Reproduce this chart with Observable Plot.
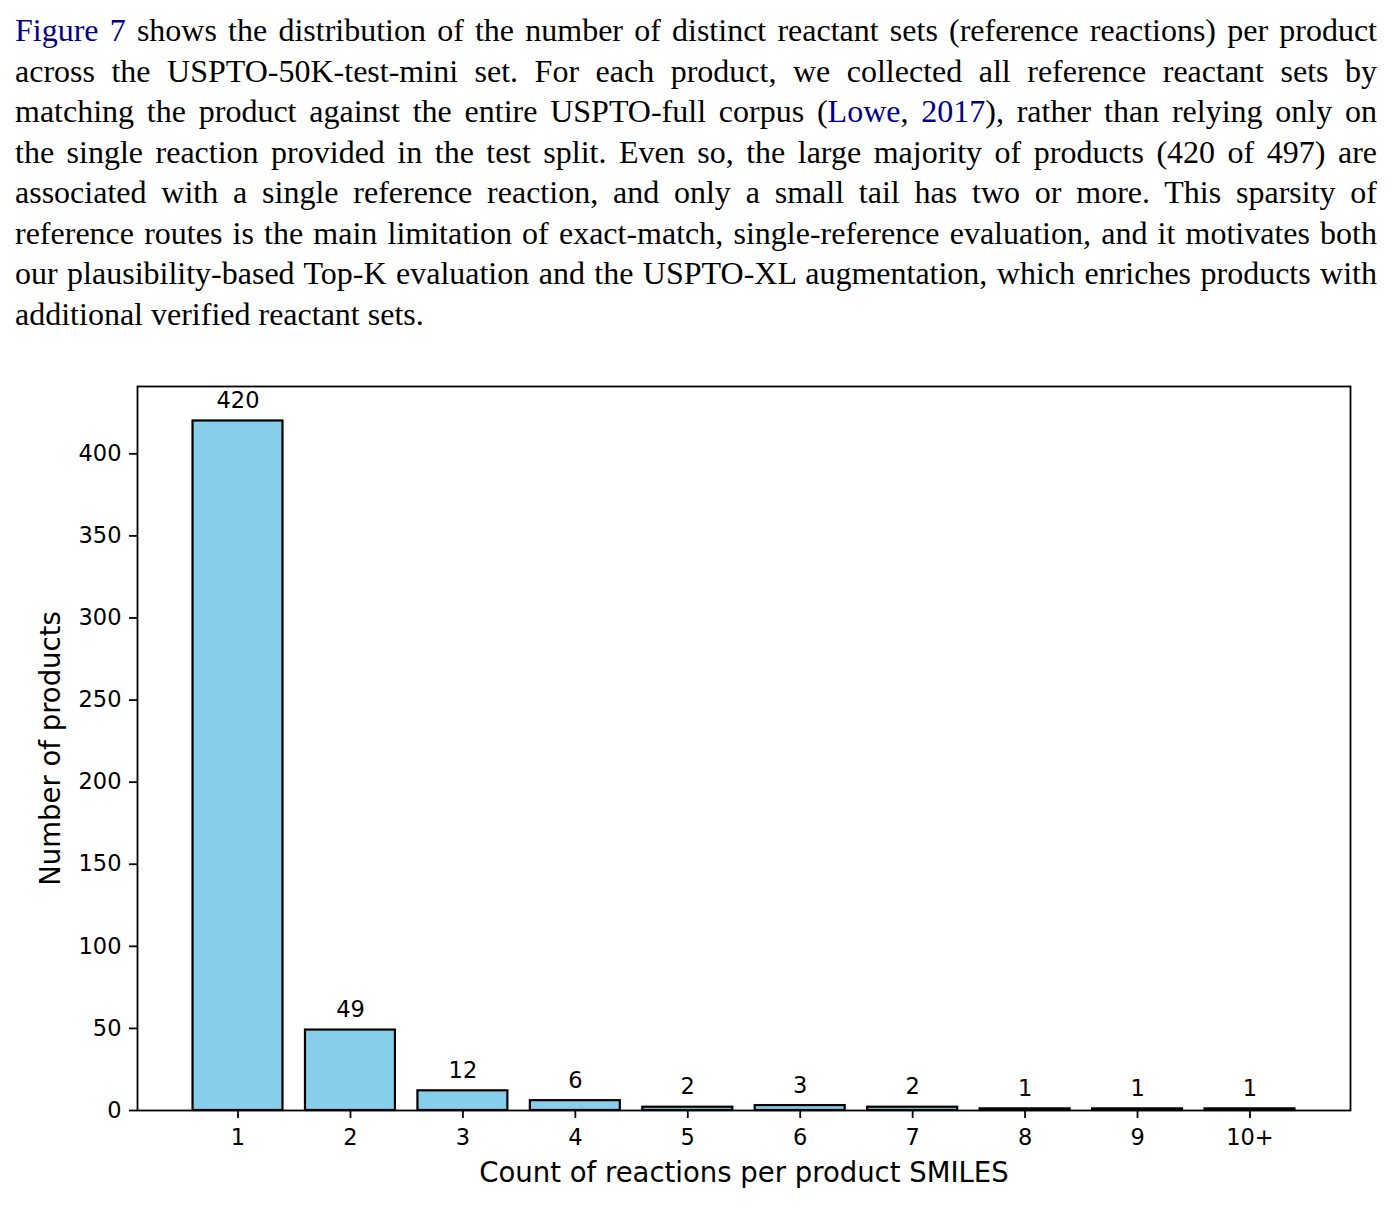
<!DOCTYPE html>
<html>
<head>
<meta charset="utf-8">
<script src="https://cdn.jsdelivr.net/npm/d3@7"></script>
<script src="https://cdn.jsdelivr.net/npm/@observablehq/plot@0.6"></script>
<style>
  html, body { margin: 0; padding: 0; background: #fff; }
  body { width: 1393px; height: 1207px; position: relative; overflow: hidden; }
  #para {
    position: absolute; left: 15px; top: 10px; width: 1362px;
    font-family: "Liberation Serif", "Times New Roman", serif;
    font-size: 32px; line-height: 40.5px; color: #000;
  }
  #para .ln { text-align: justify; text-align-last: justify; }
  #para .ln.last { text-align-last: left; }
  #para .ref { color: #00008b; }
  #chart { position: absolute; left: 0; top: 350px; }
</style>
</head>
<body>
<div id="para"></div>
<div id="chart"></div>
<script>
// ---- data ----
const categories = ["1", "2", "3", "4", "5", "6", "7", "8", "9", "10+"];
const counts = [420, 49, 12, 6, 2, 3, 2, 1, 1, 1];
const yTicks = [0, 50, 100, 150, 200, 250, 300, 350, 400];
const xLabel = "Count of reactions per product SMILES";
const yLabel = "Number of products";

// paragraph lines (segments: [text, isReference])
const paragraphLines = [
  [["Figure 7", true], [" shows the distribution of the number of distinct reactant sets (reference reactions) per product", false]],
  [["across the USPTO-50K-test-mini set.  For each product, we collected all reference reactant sets by", false]],
  [["matching the product against the entire USPTO-full corpus (", false], ["Lowe", true], [", ", false], ["2017", true], ["), rather than relying only on", false]],
  [["the single reaction provided in the test split. Even so, the large majority of products (420 of 497) are", false]],
  [["associated with a single reference reaction, and only a small tail has two or more.  This sparsity of", false]],
  [["reference routes is the main limitation of exact-match, single-reference evaluation, and it motivates both", false]],
  [["our plausibility-based Top-K evaluation and the USPTO-XL augmentation, which enriches products with", false]],
  [["additional verified reactant sets.", false]]
];

const para = document.getElementById("para");
paragraphLines.forEach((segs, i) => {
  const d = document.createElement("div");
  d.className = "ln" + (i === paragraphLines.length - 1 ? " last" : "");
  segs.forEach(([t, isRef]) => {
    const s = document.createElement("span");
    if (isRef) s.className = "ref";
    s.textContent = t;
    d.appendChild(s);
  });
  para.appendChild(d);
});

const data = categories.map((c, i) => ({category: c, count: counts[i]}));

const W = 1393, H = 857;
const chart = Plot.plot({
  width: W,
  height: H,
  marginLeft: 137,
  marginRight: 43,
  marginTop: 36,
  marginBottom: 97,
  style: {fontFamily: "DejaVu Sans, sans-serif", fontSize: "22.5px", color: "#000", background: "#fff", overflow: "visible"},
  x: {domain: categories, paddingInner: 0.2, paddingOuter: 0.494, align: 0.5, round: false},
  y: {domain: [0, 441]},
  marks: [
    Plot.barY(data, {x: "category", y: "count", fill: "#87CEEB", stroke: "#000", strokeWidth: 2.2}),
    Plot.text(data, {x: "category", y: "count", text: d => String(d.count), dy: -20, lineAnchor: "middle", fontSize: 22.5, fill: "#000"}),
    Plot.axisY({ticks: yTicks, tickSize: 8, tickPadding: 8, label: null, strokeWidth: 1.8, fontSize: 22.5}),
    Plot.axisX({tickSize: 8, tickPadding: 11, label: null, strokeWidth: 1.8, fontSize: 22.5}),
    Plot.frame({stroke: "#000", strokeWidth: 1.8}),
    Plot.text([xLabel], {frameAnchor: "bottom", text: d => d, dy: 63, lineAnchor: "middle", textAnchor: "middle", fontSize: 27.5, fill: "#000"}),
    Plot.text([yLabel], {frameAnchor: "left", text: d => d, dx: -86, rotate: -90, lineAnchor: "middle", textAnchor: "middle", fontSize: 27.5, fill: "#000"})
  ]
});
document.getElementById("chart").appendChild(chart);
</script>
</body>
</html>
